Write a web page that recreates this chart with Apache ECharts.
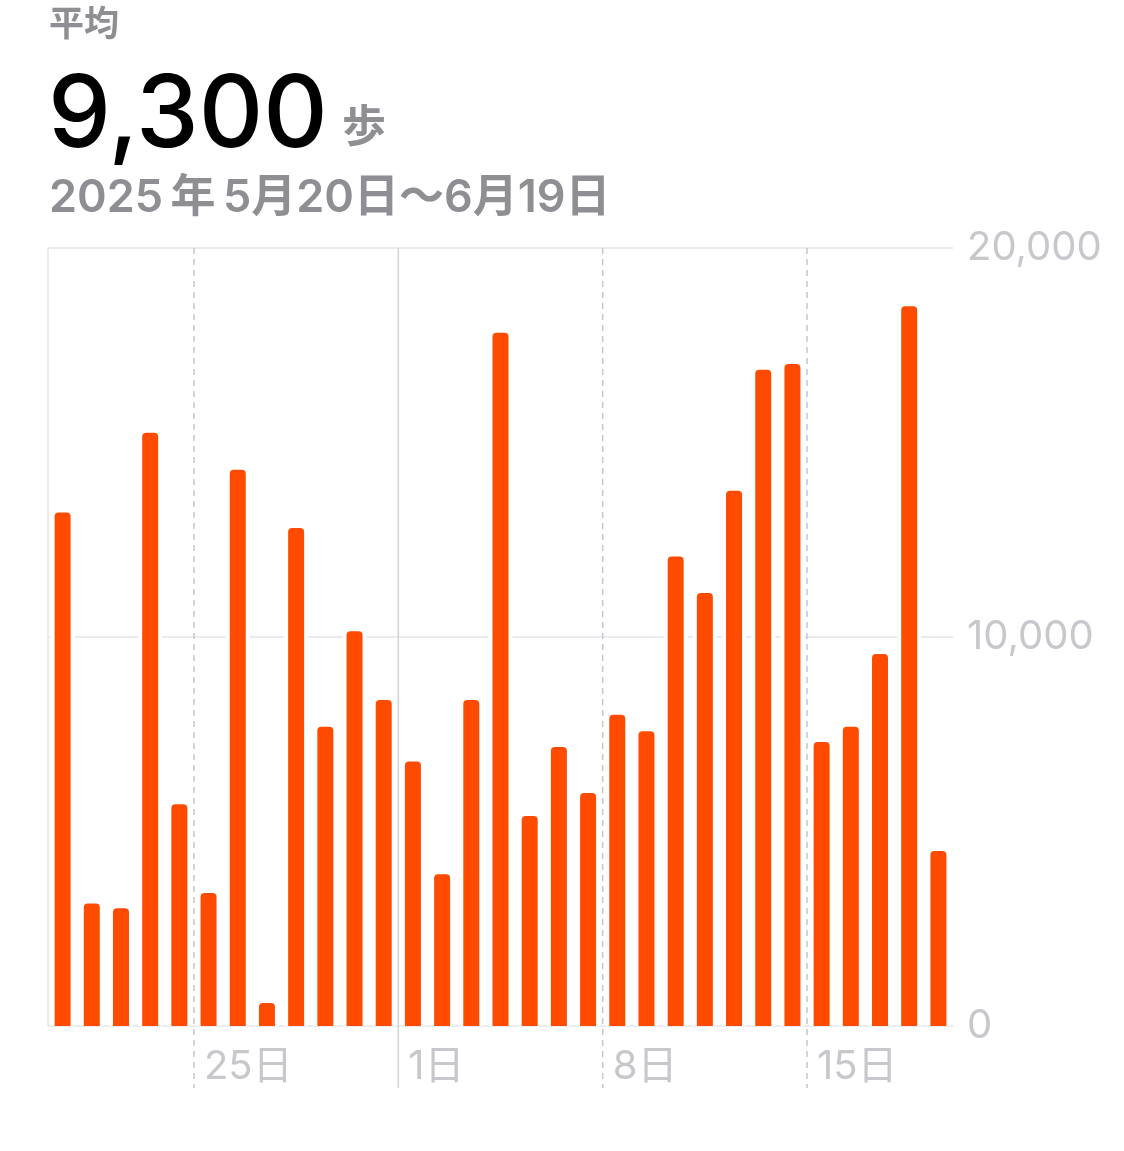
<!DOCTYPE html>
<html>
<head>
<meta charset="utf-8">
<script src="https://cdn.jsdelivr.net/npm/echarts@6/dist/echarts.min.js"></script>
<style>
html,body{margin:0;padding:0;background:#fff;}
#chart{width:1124px;height:1151px;}
</style>
</head>
<body>
<div id="chart"></div>
<script>
// ---- data ----
const days = ['5/20','5/21','5/22','5/23','5/24','5/25','5/26','5/27','5/28','5/29','5/30','5/31',
  '6/1','6/2','6/3','6/4','6/5','6/6','6/7','6/8','6/9','6/10','6/11','6/12','6/13','6/14',
  '6/15','6/16','6/17','6/18','6/19'];
const steps = [13200, 3150, 3030, 15250, 5700, 3420, 14300, 590, 12800, 7690, 10150, 8380,
  6800, 3900, 8380, 17820, 5400, 7170, 5990, 8000, 7580, 12070, 11130, 13760, 16870, 17020,
  7300, 7690, 9560, 18500, 4500];
const tickDays = ['5/25', '6/1', '6/8', '6/15'];
const tickLabels = ['25日', '1日', '8日', '15日'];
const monthStarts = ['6/1'];
const yTicks = [0, 10000, 20000];
const headline = { label: '平均', value: '9,300', unit: '歩', range: '2025\u2009年\u20095月20日〜6月19日' };

const FONT = "Inter, 'Noto Sans CJK JP', sans-serif";
const ORANGE = '#ff4b00';
const GREY = '#c7c7cc';

const chart = echarts.init(document.getElementById('chart'), null, { renderer: 'canvas' });

chart.setOption({
  animation: false,
  backgroundColor: '#fff',
  grid: { left: 48, right: 171, top: 248, bottom: 125, containLabel: false },
  graphic: [
    { type: 'text', x: 49, y: 25, style: { text: headline.label, font: '600 35px ' + FONT, fill: '#8e8e93', verticalAlign: 'middle' } },
    { type: 'text', x: 48, y: 117, style: { text: headline.value, font: '500 100px ' + FONT, fill: '#000', verticalAlign: 'middle' } },
    { type: 'text', x: 342, y: 129, style: { text: headline.unit, font: '600 44px ' + FONT, fill: '#8e8e93', verticalAlign: 'middle' } },
    { type: 'text', x: 49, y: 198, style: { text: headline.range, font: '600 45px ' + FONT, fill: '#8e8e93', verticalAlign: 'middle' } }
  ],
  xAxis: [
    {
      type: 'category', data: days, boundaryGap: true,
      axisLine: { show: false }, axisTick: { show: false }, splitLine: { show: false },
      axisLabel: { show: false }
    },
    {
      type: 'category', data: days, boundaryGap: true, show: false
    }
  ],
  yAxis: [
    {
      type: 'value', position: 'right', min: yTicks[0], max: yTicks[yTicks.length - 1],
      interval: yTicks[1] - yTicks[0],
      axisLine: { show: false }, axisTick: { show: false },
      splitLine: { show: true, lineStyle: { color: '#e5e5ea', width: 1.5 } },
      axisLabel: { margin: 14, color: GREY, fontSize: 40, fontFamily: FONT,
        formatter: (v) => v.toLocaleString('en-US') }
    },
    {
      type: 'value', position: 'left', min: yTicks[0], max: yTicks[yTicks.length - 1],
      axisLine: { show: true, lineStyle: { color: '#e5e5ea', width: 1.5 } },
      axisTick: { show: false }, axisLabel: { show: false }, splitLine: { show: false }
    }
  ],
  series: [
    {
      name: 'halo', type: 'bar', xAxisIndex: 1, yAxisIndex: 0, data: steps,
      barWidth: 24, silent: true, z: 2,
      itemStyle: { color: '#fff', borderColor: '#fff', borderWidth: 2, borderRadius: [6, 6, 0, 0] }
    },
    {
      name: 'steps', type: 'bar', xAxisIndex: 0, yAxisIndex: 0, data: steps,
      barWidth: 16, z: 3,
      itemStyle: { color: ORANGE, borderRadius: [4, 4, 0, 0] }
    },
    {
      name: 'separators', type: 'custom', xAxisIndex: 0, yAxisIndex: 0, z: 1,
      data: tickDays.map((d, i) => [days.indexOf(d), 0, monthStarts.indexOf(d) >= 0 ? 1 : 0, i]),
      renderItem: function (params, api) {
        const idx = api.value(0);
        const base = api.coord([idx, yTicks[0]]);
        const top = api.coord([idx, yTicks[yTicks.length - 1]]);
        const band = api.size([1, 0])[0];
        const x = base[0] - band / 2;
        const solid = api.value(2) === 1;
        return {
          type: 'group',
          children: [
            {
              type: 'line',
              shape: { x1: x, y1: top[1], x2: x, y2: base[1] + 62 },
              style: {
                stroke: solid ? '#d1d1d6' : GREY,
                lineWidth: 1.5,
                lineDash: solid ? null : [6, 5]
              }
            },
            {
              type: 'text',
              x: x + 10, y: base[1] + 41,
              style: {
                text: tickLabels[api.value(3)],
                fill: GREY,
                font: '400 40px ' + FONT,
                verticalAlign: 'middle',
                align: 'left'
              }
            }
          ]
        };
      }
    }
  ]
});
</script>
</body>
</html>
